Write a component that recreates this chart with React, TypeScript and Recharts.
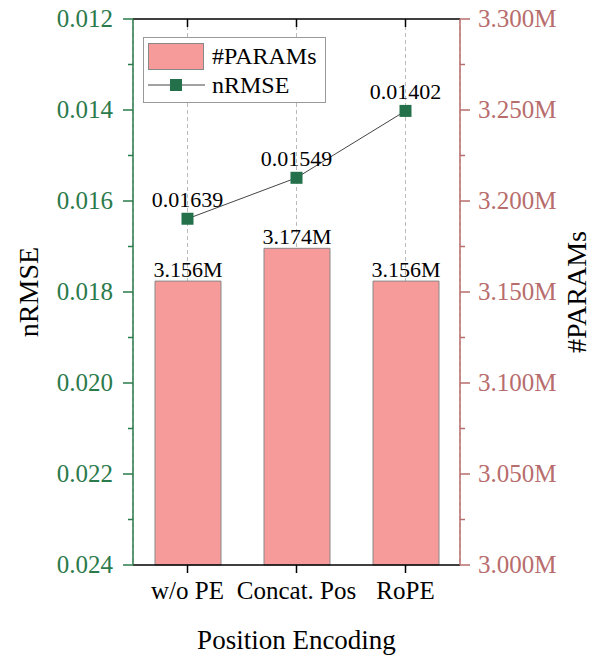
import {
  ComposedChart,
  Bar,
  Line,
  XAxis,
  YAxis,
  CartesianGrid,
  LabelList,
} from "recharts";

const categories = ["w/o PE", "Concat. Pos", "RoPE"];
const params = [3.156, 3.174, 3.156];
const nrmse = [0.01639, 0.01549, 0.01402];

const leftTicks = [0.012, 0.013, 0.014, 0.015, 0.016, 0.017, 0.018, 0.019, 0.02, 0.021, 0.022, 0.023, 0.024];
const rightTicks = [3.0, 3.025, 3.05, 3.075, 3.1, 3.125, 3.15, 3.175, 3.2, 3.225, 3.25, 3.275, 3.3];

const GREEN = "#2b7a4b";
const ROSE = "#b86d6d";
const BAR = "#f79a9a";
const FONT = "'Liberation Serif', 'Times New Roman', serif";

const data = categories.map((c, i) => ({ name: c, params: params[i], nrmse: nrmse[i] }));

// minor ticks are half length and carry no label
// eslint-disable-next-line @typescript-eslint/no-explicit-any
const LeftTick = (props: any) => {
  const { x, y, payload } = props;
  const axisX = x + 18;
  const major = Math.round(payload.value * 1000) % 2 === 0;
  return (
    <g>
      <line x1={axisX - (major ? 10 : 5)} x2={axisX} y1={y} y2={y} stroke={GREEN} strokeWidth={1.5} />
      {major && (
        <text x={x - 2} y={y} dy={8} textAnchor="end" fill={GREEN} fontSize={25} fontFamily={FONT}>
          {payload.value.toFixed(3)}
        </text>
      )}
    </g>
  );
};

// eslint-disable-next-line @typescript-eslint/no-explicit-any
const RightTick = (props: any) => {
  const { x, y, payload } = props;
  const axisX = x - 18;
  const major = Math.round(payload.value * 1000) % 50 === 0;
  return (
    <g>
      <line x1={axisX} x2={axisX + (major ? 10 : 5)} y1={y} y2={y} stroke={ROSE} strokeWidth={1.5} />
      {major && (
        <text x={x} y={y} dy={8} textAnchor="start" fill={ROSE} fontSize={25} fontFamily={FONT}>
          {payload.value.toFixed(3) + "M"}
        </text>
      )}
    </g>
  );
};

const LegendBox = () => (
  <div
    style={{
      position: "absolute",
      left: 143,
      top: 37,
      border: "1.5px solid #999",
      background: "#fff",
      width: 183,
      height: 66,
      boxSizing: "border-box",
      fontFamily: FONT,
      fontSize: 24,
      color: "#000",
      padding: "4px 0 0 4px",
    }}
  >
    <div style={{ display: "flex", alignItems: "center", height: 28 }}>
      <div style={{ width: 56, height: 27, background: BAR, border: "1px solid #888", boxSizing: "border-box" }} />
      <span style={{ marginLeft: 8 }}>#PARAMs</span>
    </div>
    <div style={{ display: "flex", alignItems: "center", height: 30 }}>
      <svg width={57} height={14}>
        <line x1={0} x2={57} y1={7} y2={7} stroke="#444" strokeWidth={1} />
        <rect x={22} y={1} width={12} height={12} fill="#23704a" />
      </svg>
      <span style={{ marginLeft: 7 }}>nRMSE</span>
    </div>
  </div>
);

export default function App() {
  return (
    <div style={{ position: "absolute", left: 0, top: 0, width: 598, height: 655, background: "#fff" }}>
      <ComposedChart
        width={598}
        height={655}
        data={data}
        margin={{ top: 19, right: 0, left: 0, bottom: 0 }}
      >
        <CartesianGrid horizontal={false} stroke="#bbb" strokeDasharray="4 3" />
        <XAxis
          dataKey="name"
          xAxisId="bottom"
          height={90}
          stroke="#000"
          strokeWidth={1.5}
          tickSize={8}
          tickMargin={8}
          tick={{ fill: "#000", fontSize: 25, fontFamily: FONT }}
          label={{ value: "Position Encoding", position: "insideBottom", offset: 6, fill: "#000", fontSize: 27, fontFamily: FONT }}
        />
        <XAxis
          dataKey="name"
          xAxisId="top"
          orientation="top"
          height={1}
          mirror
          stroke="#000"
          strokeWidth={1.5}
          tickSize={8}
          tickFormatter={() => ""}
        />
        <YAxis
          yAxisId="left"
          orientation="left"
          width={133}
          domain={[0.012, 0.024]}
          reversed
          ticks={leftTicks}
          interval={0}
          stroke={GREEN}
          strokeWidth={1.5}
          tickLine={false}
          tickSize={10}
          tickMargin={8}
          tick={<LeftTick />}
          label={{ value: "nRMSE", angle: -90, position: "insideLeft", offset: 28, textAnchor: "middle", fill: "#000", fontSize: 28, fontFamily: FONT }}
        />
        <YAxis
          yAxisId="right"
          orientation="right"
          width={138}
          domain={[3.0, 3.3]}
          ticks={rightTicks}
          interval={0}
          stroke={ROSE}
          strokeWidth={1.5}
          tickLine={false}
          tickSize={10}
          tickMargin={8}
          tick={<RightTick />}
          label={{ value: "#PARAMs", angle: -90, position: "insideRight", offset: 22, textAnchor: "middle", fill: "#000", fontSize: 28, fontFamily: FONT }}
        />
        <Bar
          dataKey="params"
          xAxisId="bottom"
          yAxisId="right"
          fill={BAR}
          stroke="#888"
          strokeWidth={1}
          barSize={66}
          isAnimationActive={false}
        >
          <LabelList
            dataKey="params"
            position="top"
            offset={4}
            formatter={(v: any) => Number(v).toFixed(3) + "M"}
            fill="#000"
            fontSize={22}
            fontFamily={FONT}
          />
        </Bar>
        <Line
          dataKey="nrmse"
          xAxisId="bottom"
          yAxisId="left"
          stroke="#444"
          strokeWidth={1}
          // eslint-disable-next-line @typescript-eslint/no-explicit-any
          dot={(p: any) => <rect key={p.index} x={p.cx - 6} y={p.cy - 6} width={12} height={12} fill="#23704a" />}
          activeDot={false}
          isAnimationActive={false}
        >
          <LabelList
            dataKey="nrmse"
            position="top"
            offset={12}
            formatter={(v: any) => Number(v).toFixed(5)}
            fill="#000"
            fontSize={22}
            fontFamily={FONT}
          />
        </Line>
      </ComposedChart>
      <LegendBox />
    </div>
  );
}
